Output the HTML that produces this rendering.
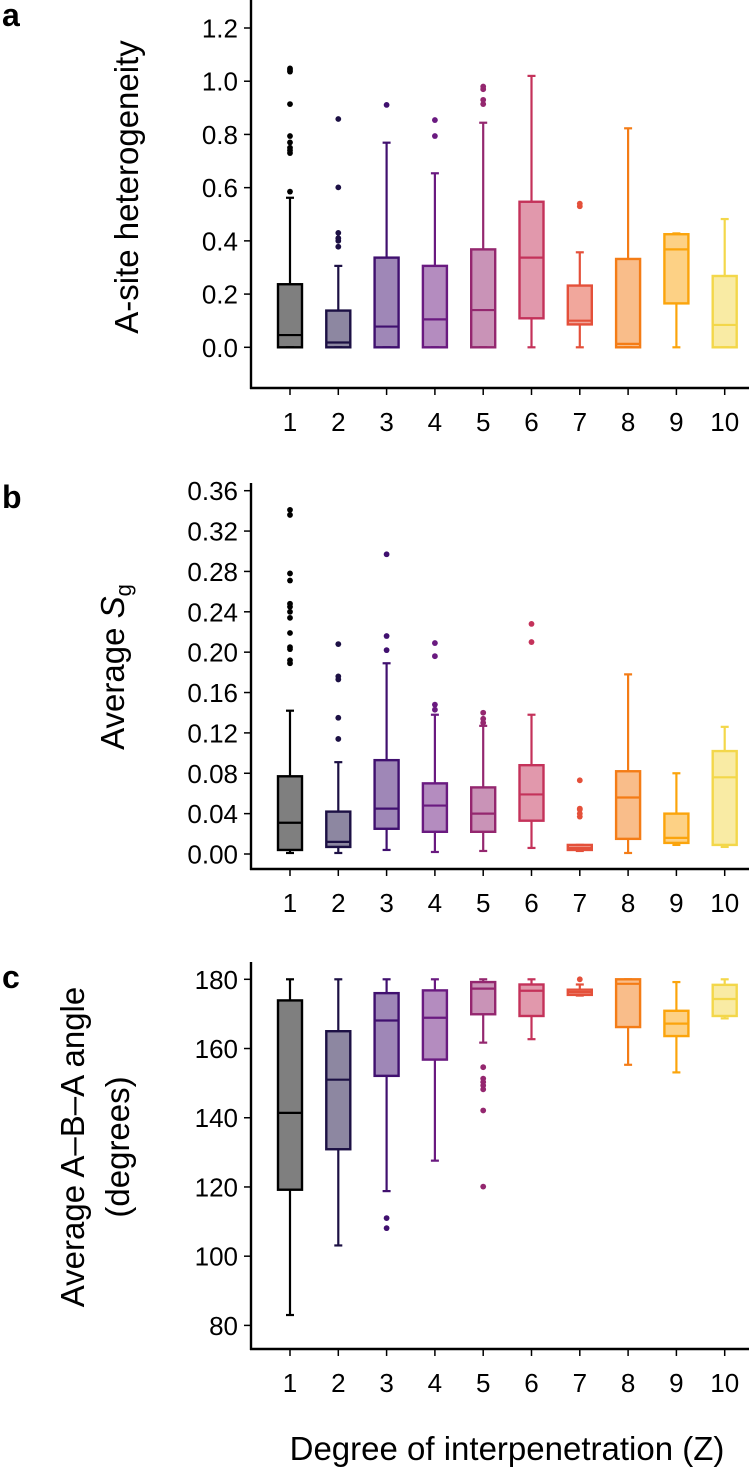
<!DOCTYPE html>
<html><head><meta charset="utf-8"><style>
html,body{margin:0;padding:0;background:#fff;}
svg{display:block;font-family:"Liberation Sans",Arial,sans-serif;}
</style></head><body>
<svg id="fig" width="750" height="1467" viewBox="0 0 750 1467" xmlns="http://www.w3.org/2000/svg">
<text x="2" y="26" font-size="32" font-weight="bold">a</text>
<text x="2" y="508" font-size="32" font-weight="bold">b</text>
<text x="2" y="988" font-size="32" font-weight="bold">c</text>
<text transform="translate(138,187) rotate(-90)" text-anchor="middle" font-size="33">A-site heterogeneity</text>
<text transform="translate(124,667) rotate(-90)" text-anchor="middle" font-size="33">Average <tspan font-style="italic">S</tspan><tspan font-size="22" dy="7">g</tspan></text>
<text transform="translate(84,1147) rotate(-90)" text-anchor="middle" font-size="33">Average A–B–A angle</text>
<text transform="translate(129,1147) rotate(-90)" text-anchor="middle" font-size="33">(degrees)</text>
<text x="507" y="1460" text-anchor="middle" font-size="33">Degree of interpenetration (Z)</text>
</svg>
<script>
const categories = ['1','2','3','4','5','6','7','8','9','10'];
const strokeColors = ['#000000','#1c1044','#40106f','#6a1a80','#94276f','#c4325a','#e4503a','#f47c16','#fba40c','#f3d74a'];
// panel a: [low, q1, median, q3, high]
const statsA = [[0,0,0.046,0.237,0.562],[0,0,0.018,0.138,0.306],[0,0,0.078,0.337,0.769],[0,0,0.105,0.306,0.654],[0,0,0.14,0.368,0.844],[0,0.109,0.337,0.547,1.02],[0,0.086,0.1,0.232,0.357],[0,0,0.013,0.332,0.823],[0,0.165,0.368,0.425,0.428],[0,0,0.084,0.268,0.482]];
const outliersA = [[0.585,0.73,0.74,0.75,0.77,0.794,0.914,1.036,1.042,1.048],[0.378,0.40,0.41,0.43,0.601,0.858],[0.911],[0.794,0.854],[0.914,0.93,0.97,0.98],[],[0.53,0.54],[],[],[]];
const ticksA = [0,0.2,0.4,0.6,0.8,1.0,1.2];
const ticksALabels = ['0.0','0.2','0.4','0.6','0.8','1.0','1.2'];
// panel b
const statsB = [[0.001,0.004,0.031,0.077,0.142],[0.001,0.007,0.012,0.042,0.091],[0.004,0.025,0.045,0.093,0.189],[0.002,0.022,0.048,0.07,0.138],[0.003,0.022,0.04,0.066,0.127],[0.006,0.033,0.059,0.088,0.138],[0.003,0.004,0.006,0.009,0.009],[0.001,0.015,0.056,0.082,0.178],[0.009,0.011,0.016,0.04,0.08],[0.007,0.009,0.076,0.102,0.126]];
const outliersB = [[0.189,0.192,0.203,0.205,0.219,0.234,0.24,0.245,0.248,0.271,0.278,0.336,0.341],[0.114,0.135,0.173,0.176,0.208],[0.202,0.216,0.297],[0.143,0.148,0.196,0.209],[0.13,0.134,0.14],[0.21,0.228],[0.037,0.04,0.044,0.045,0.073],[],[],[]];
const ticksB = [0,0.04,0.08,0.12,0.16,0.2,0.24,0.28,0.32,0.36];
const ticksBLabels = ['0.00','0.04','0.08','0.12','0.16','0.20','0.24','0.28','0.32','0.36'];
// panel c
const statsC = [[83,119.2,141.4,173.9,180],[103.1,130.9,151,165,180],[118.8,152.1,168.1,176,180],[127.6,156.8,168.9,176.8,180],[161.7,169.9,177.3,179.2,180],[162.7,169.4,176.7,178.5,180],[175.3,175.5,176.3,177,178.5],[155.3,166.2,178.7,180,180],[153.1,163.6,167.2,170.9,179.2],[168.7,169.4,174.3,178.4,180]];
const outliersC = [[],[],[111,108.1],[],[154.6,151.3,150.3,149.3,148.2,142.1,120.1],[],[180],[],[],[]];
const ticksC = [80,100,120,140,160,180];
const ticksCLabels = ['80','100','120','140','160','180'];

const NS='http://www.w3.org/2000/svg';
const svg=document.getElementById('fig');
function mk(tag,attrs,parent){const e=document.createElementNS(NS,tag);for(const k in attrs)e.setAttribute(k,attrs[k]);(parent||svg).appendChild(e);return e;}
const AX=251, XR=749;
function xPos(i){return 290+i*48.3;}
function panel(id,stats,outl,ticks,labels,v0,y0,v1,y1,axTop,axBot){
  const y=v=>y0+(v-v0)*(y1-y0)/(v1-v0);
  const g=mk('g',{});
  
  
  const ya=mk('line',{x1:AX,y1:axTop,x2:AX,y2:axBot+1,stroke:'#000','stroke-width':2.4},g);
  
  
  const xa=mk('line',{x1:AX-1,y1:axBot,x2:XR,y2:axBot,stroke:'#000','stroke-width':2.4},g);
  
  
  ticks.forEach((t,k)=>{
    mk('line',{x1:AX-7,y1:y(t),x2:AX,y2:y(t),stroke:'#000','stroke-width':1.5},g);
    const tx=mk('text',{x:AX-13,y:y(t)+9.5,'text-anchor':'end','font-size':26},g);
    tx.textContent=labels[k];
    
    
  });
  categories.forEach((c,i)=>{
    const x=xPos(i);
    mk('line',{x1:x,y1:axBot,x2:x,y2:axBot+7,stroke:'#000','stroke-width':1.5},g);
    const tx=mk('text',{x:x,y:axBot+43,'text-anchor':'middle','font-size':26},g);
    tx.textContent=c;
    
    
    const col=strokeColors[i], s=stats[i], w=24, cw=8;
    const bg=mk('g',{},g);
    
    
    mk('line',{x1:x,y1:y(s[0]),x2:x,y2:y(s[1]),stroke:col,'stroke-width':2.2},bg);
    mk('line',{x1:x,y1:y(s[3]),x2:x,y2:y(s[4]),stroke:col,'stroke-width':2.2},bg);
    mk('line',{x1:x-cw/2,y1:y(s[0]),x2:x+cw/2,y2:y(s[0]),stroke:col,'stroke-width':2.2},bg);
    mk('line',{x1:x-cw/2,y1:y(s[4]),x2:x+cw/2,y2:y(s[4]),stroke:col,'stroke-width':2.2},bg);
    const top=y(s[3]),bot=y(s[1]);
    mk('rect',{x:x-w/2,y:top,width:w,height:Math.max(bot-top,1),fill:col,'fill-opacity':0.5,stroke:col,'stroke-width':2.4},bg);
    mk('line',{x1:x-w/2,y1:y(s[2]),x2:x+w/2,y2:y(s[2]),stroke:col,'stroke-width':2.2},bg);
    outl[i].forEach(v=>{
      const p=mk('circle',{cx:x,cy:y(v),r:2.9,fill:col},bg);
      
      
    });
  });
}
panel('a',statsA,outliersA,ticksA,ticksALabels,0,347.3,1.2,28,0,388);
panel('b',statsB,outliersB,ticksB,ticksBLabels,0,854,0.36,490.7,483,869);
panel('c',statsC,outliersC,ticksC,ticksCLabels,80,1325.4,180,979.3,962,1349);
</script>
</body></html>
